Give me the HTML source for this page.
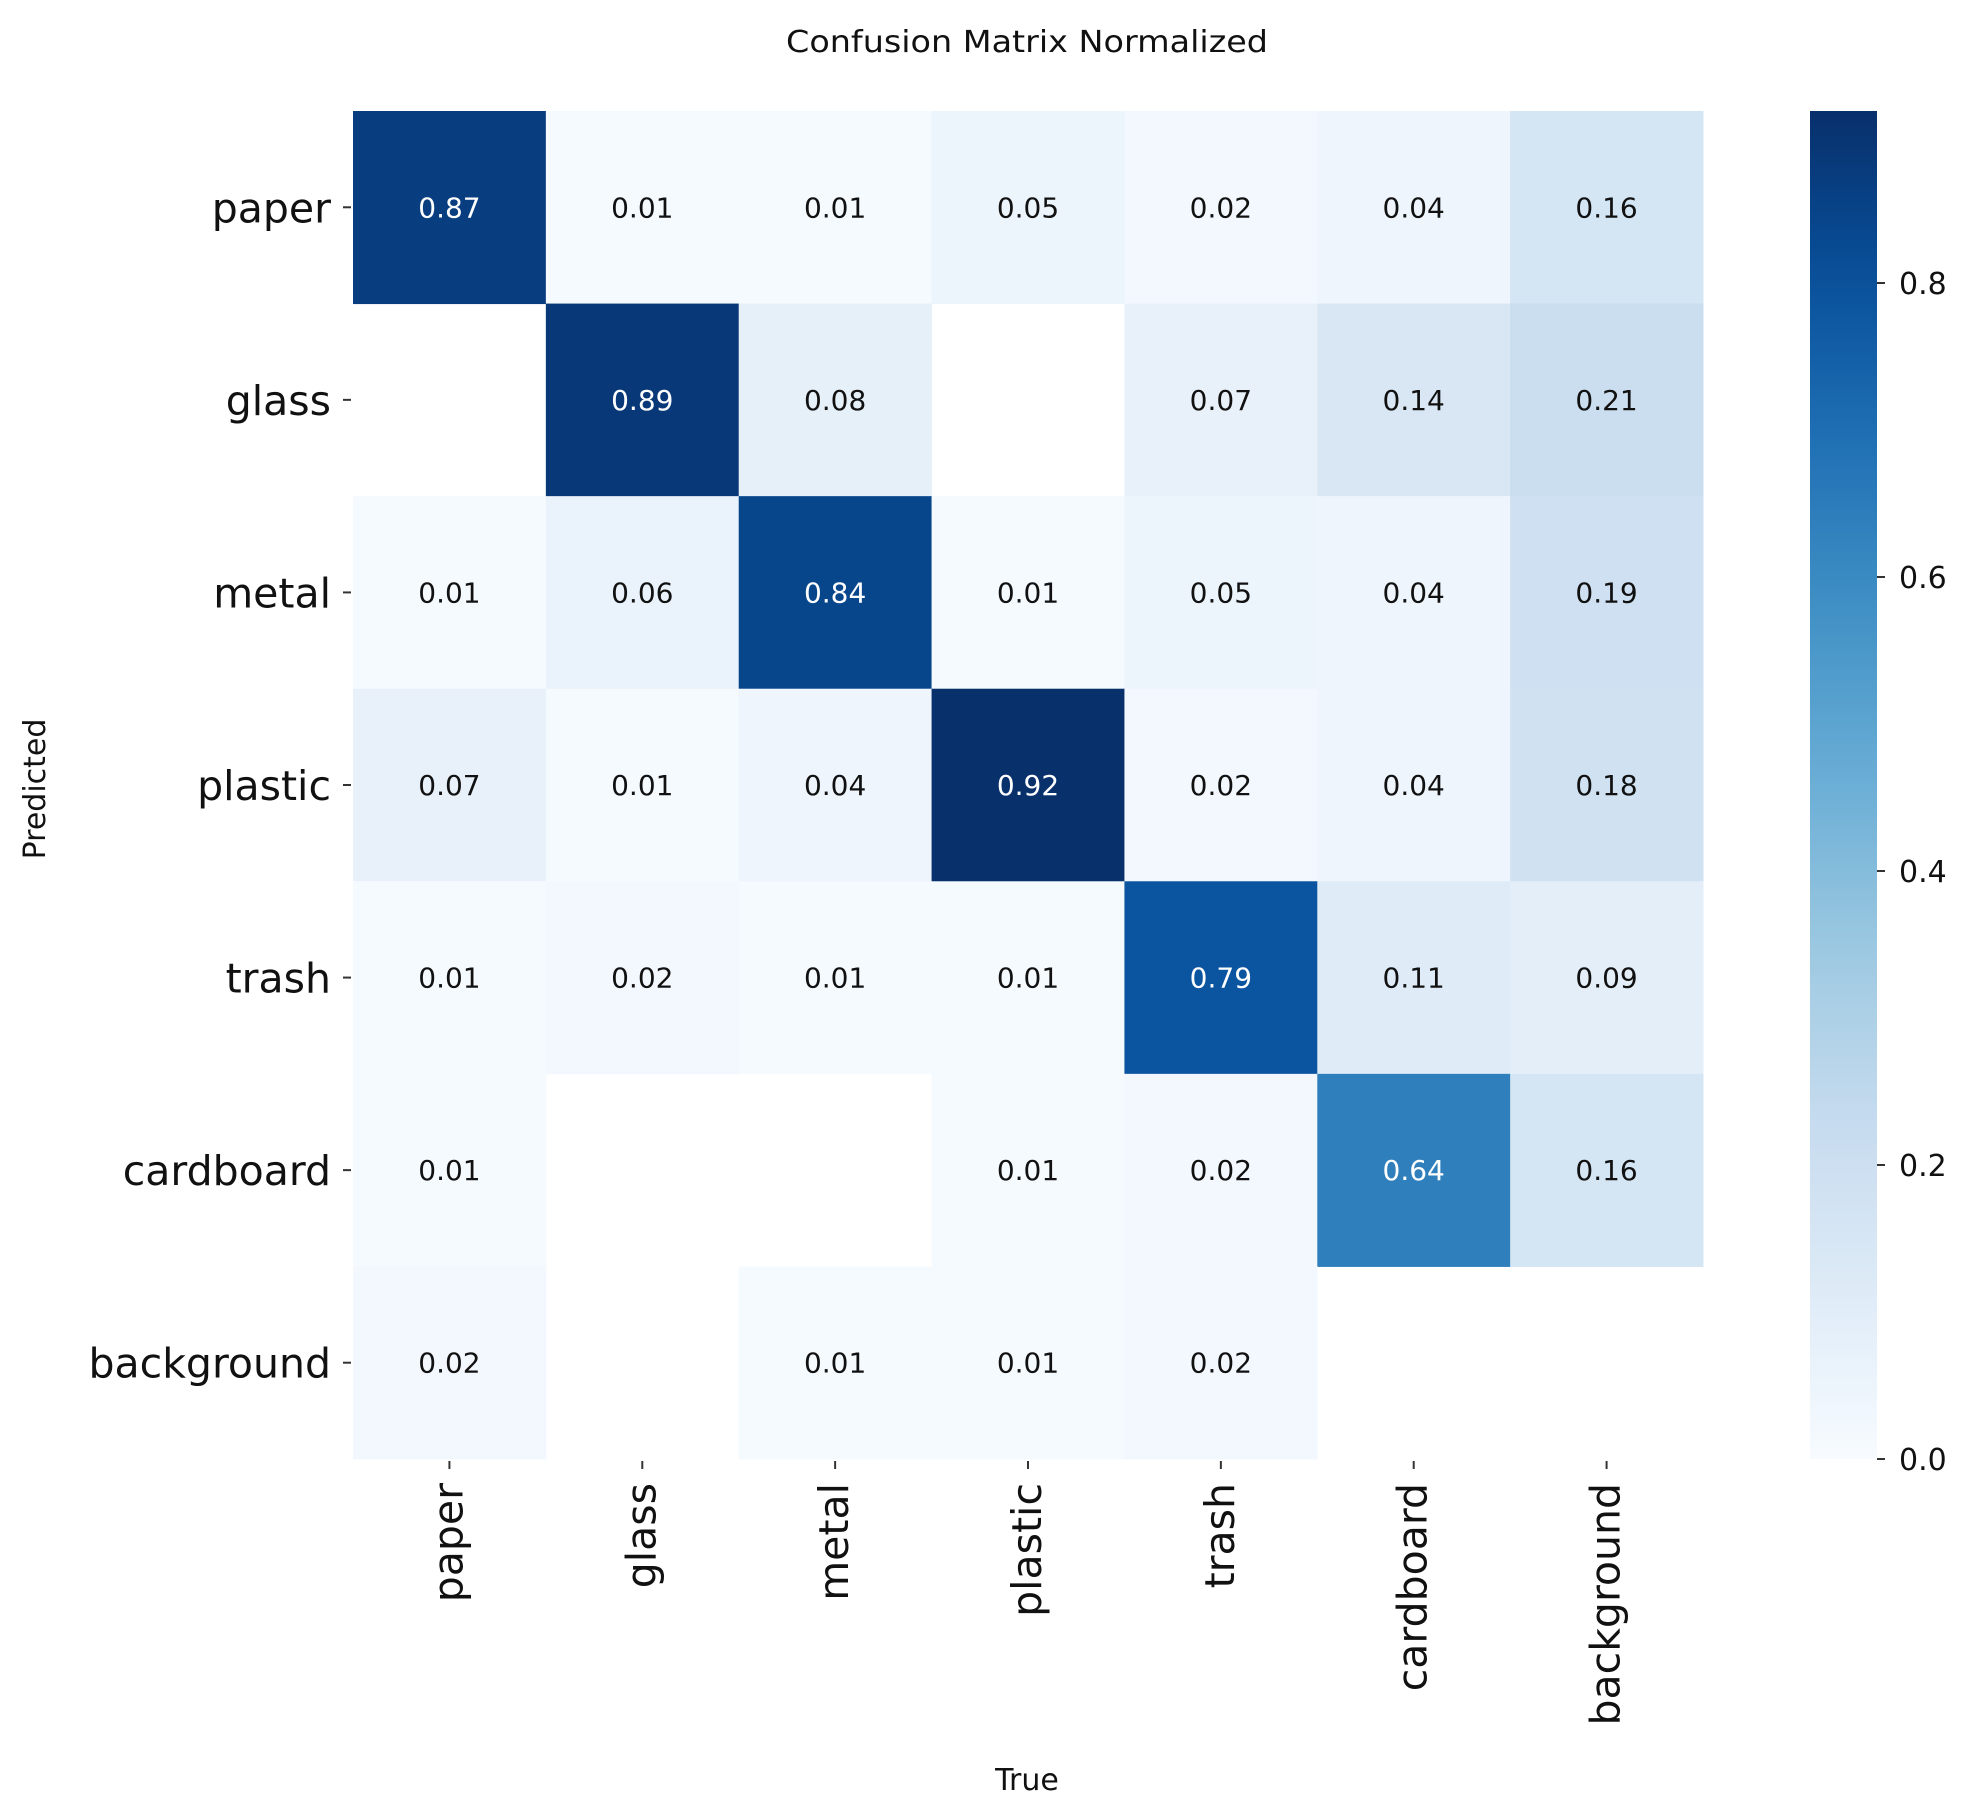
<!DOCTYPE html>
<html>
<head>
<meta charset="utf-8">
<style>
  html,body{margin:0;padding:0;background:#fff;}
  svg{display:block;}
  text{font-family:"DejaVu Sans","Liberation Sans",sans-serif;}
</style>
</head>
<body>
<svg id="chart" width="1972" height="1816" viewBox="0 0 1972 1816" xmlns="http://www.w3.org/2000/svg">
  <defs>
    <linearGradient id="cbGrad" x1="0" y1="1" x2="0" y2="0"></linearGradient>
  </defs>
  <text x="1027" y="52" font-size="30" text-anchor="middle" textLength="482" lengthAdjust="spacingAndGlyphs" fill="#111">Confusion Matrix Normalized</text>
  <text transform="translate(45,789) rotate(-90)" font-size="30" text-anchor="middle" fill="#111">Predicted</text>
  <text x="1027" y="1790" font-size="30" text-anchor="middle" fill="#111">True</text>
  <g id="cells"></g>
  <g id="yticks"></g>
  <g id="xticks"></g>
  <rect x="1810" y="111" width="67" height="1348" fill="url(#cbGrad)"></rect>
  <g id="cbticks"></g>
</svg>
<script>
const categories = ["paper","glass","metal","plastic","trash","cardboard","background"];
const rowPaper      = [0.87,0.01,0.01,0.05,0.02,0.04,0.16];
const rowGlass      = [0,   0.89,0.08,0,   0.07,0.14,0.21];
const rowMetal      = [0.01,0.06,0.84,0.01,0.05,0.04,0.19];
const rowPlastic    = [0.07,0.01,0.04,0.92,0.02,0.04,0.18];
const rowTrash      = [0.01,0.02,0.01,0.01,0.79,0.11,0.09];
const rowCardboard  = [0.01,0,   0,   0.01,0.02,0.64,0.16];
const rowBackground = [0.02,0,   0.01,0.01,0.02,0,   0];
const colorbarTicks = [0.0,0.2,0.4,0.6,0.8];
const colorbarTickLabels = ["0.0","0.2","0.4","0.6","0.8"];

const matrix = [rowPaper,rowGlass,rowMetal,rowPlastic,rowTrash,rowCardboard,rowBackground];
const NS = "http://www.w3.org/2000/svg";
const X0 = 353, X1 = 1703, Y0 = 111, Y1 = 1459;
const VMIN = 0, VMAX = 0.917;
const n = categories.length;
const cw = (X1 - X0) / n, ch = (Y1 - Y0) / n;
function xPos(i){ return X0 + i * cw; }
function yPos(j){ return Y0 + j * ch; }
function cbY(v){ return Y1 - (v - VMIN) / (VMAX - VMIN) * (Y1 - Y0); }

const blues = [[247,251,255],[222,235,247],[198,219,239],[158,202,225],[107,174,214],[66,146,198],[33,113,181],[8,81,156],[8,48,107]];
function colorFor(v){
  let t = Math.max(0, Math.min(1, (v - VMIN) / (VMAX - VMIN)));
  const p = t * (blues.length - 1);
  const i = Math.min(blues.length - 2, Math.floor(p));
  const f = p - i;
  const c = blues[i].map((a, k) => Math.round(a + (blues[i+1][k] - a) * f));
  return "rgb(" + c.join(",") + ")";
}
function mk(tag, attrs, parent){
  const el = document.createElementNS(NS, tag);
  for (const k in attrs) el.setAttribute(k, attrs[k]);
  parent.appendChild(el);
  return el;
}

// gradient
const grad = document.getElementById("cbGrad");
for (let s = 0; s <= 20; s++){
  const v = VMIN + (VMAX - VMIN) * s / 20;
  mk("stop", {offset: (s/20*100) + "%", "stop-color": colorFor(v)}, grad);
}

const cells = document.getElementById("cells");
matrix.forEach((row, j) => {
  row.forEach((v, i) => {
    if (v === 0) return;
    const r = mk("rect", {x: xPos(i), y: yPos(j), width: cw + 0.5, height: ch + 0.5, fill: colorFor(v)}, cells);
    
    
    const t = mk("text", {x: xPos(i) + cw/2, y: yPos(j) + ch/2 + 10, "font-size": 28, "text-anchor": "middle", fill: v > 0.5 ? "#ffffff" : "#111111"}, cells);
    t.textContent = v.toFixed(2);
    
    
  });
});

const yt = document.getElementById("yticks");
const xt = document.getElementById("xticks");
categories.forEach((c, k) => {
  const cy = yPos(k) + ch/2;
  const tk = mk("line", {x1: X0 - 10, x2: X0 - 2, y1: cy, y2: cy, stroke: "#333", "stroke-width": 2}, yt);
  
  
  const lb = mk("text", {x: X0 - 22, y: cy + 15, "font-size": 41, "text-anchor": "end", fill: "#111"}, yt);
  lb.textContent = c;
  
  

  const cx = xPos(k) + cw/2;
  const tx = mk("line", {x1: cx, x2: cx, y1: Y1 + 2, y2: Y1 + 10, stroke: "#333", "stroke-width": 2}, xt);
  
  
  const xl = mk("text", {transform: "translate(" + (cx + 13) + "," + (Y1 + 24) + ") rotate(-90)", "font-size": 41, "text-anchor": "end", fill: "#111"}, xt);
  xl.textContent = c;
  
  
});

const cbt = document.getElementById("cbticks");
colorbarTicks.forEach((v, k) => {
  const y = cbY(v);
  const l = mk("line", {x1: 1877, x2: 1885, y1: y, y2: y, stroke: "#333", "stroke-width": 2}, cbt);
  
  
  const t = mk("text", {x: 1899, y: y + 11, "font-size": 30, fill: "#111"}, cbt);
  t.textContent = colorbarTickLabels[k];
  
  
});
</script>
</body>
</html>
